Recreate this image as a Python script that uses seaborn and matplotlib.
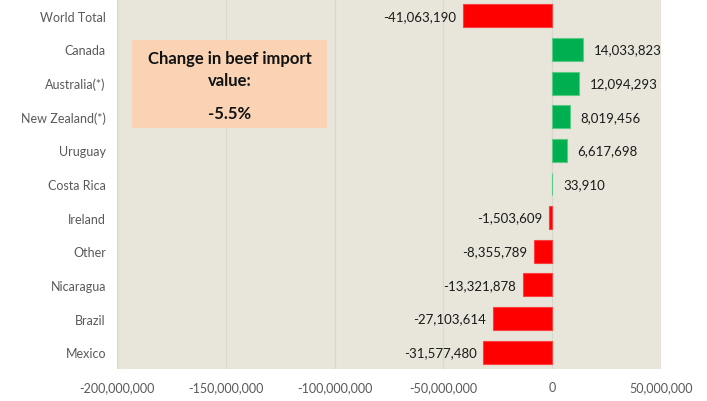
import matplotlib.pyplot as plt
import matplotlib.ticker as mticker
import seaborn as sns
import pandas as pd

# Data
countries = ['World Total', 'Canada', 'Australia(*)', 'New Zealand(*)', 'Uruguay',
             'Costa Rica', 'Ireland', 'Other', 'Nicaragua', 'Brazil', 'Mexico']
change = [-41063190, 14033823, 12094293, 8019456, 6617698,
          33910, -1503609, -8355789, -13321878, -27103614, -31577480]
x_ticks = [-200000000, -150000000, -100000000, -50000000, 0, 50000000]
summary_title = 'Change in beef import\nvalue:'
summary_value = '-5.5%'

df = pd.DataFrame({'country': countries, 'change': change})

sns.set_style('white')
plt.rcParams['font.family'] = ['Lato', 'DejaVu Sans']

fig = plt.figure(figsize=(7.07, 4.02), dpi=100)
ax = fig.add_axes([117 / 707, 32 / 402, 544 / 707, 370 / 402])
ax.set_facecolor('#E8E5DA')

green, red = '#00B050', '#FF0000'
colors = [green if v >= 0 else red for v in change]
sns.barplot(data=df, x='change', y='country', hue='country', palette=colors,
            saturation=1, orient='h', width=0.68, legend=False, ax=ax, zorder=3)

# thin outlines like the spreadsheet bars
for patch, v in zip(ax.patches, change):
    patch.set_edgecolor('#5ACB85' if v >= 0 else '#FF4040')
    patch.set_linewidth(0.8)

# value labels
for i, v in enumerate(change):
    if v >= 0:
        ax.annotate(f'{v:,}', (v, i), xytext=(8, 0), textcoords='offset points',
                    ha='left', va='center', fontsize=9.5, color='#1A1A1A')
    else:
        ax.annotate(f'{v:,}', (v, i), xytext=(-5, 0), textcoords='offset points',
                    ha='right', va='center', fontsize=9.5, color='#1A1A1A')

ax.set_xlim(-200000000, 50000000)
ax.set_ylim(len(countries) - 0.5, -0.5)
ax.set_xticks(x_ticks)
ax.xaxis.set_major_formatter(mticker.FuncFormatter(lambda v, p: f'{int(v):,}'))
ax.grid(axis='x', color='#DAD7CE', linewidth=0.9, zorder=0)
ax.set_axisbelow(True)
ax.tick_params(axis='both', length=0, colors='#595959', labelsize=9)
ax.tick_params(axis='x', pad=9)
ax.tick_params(axis='y', pad=8)
for s in ax.spines.values():
    s.set_visible(False)
ax.set_xlabel('')
ax.set_ylabel('')

# summary box
box = plt.Rectangle((132 / 707, 1 - 129 / 402), 195 / 707, 88 / 402,
                    transform=fig.transFigure, facecolor='#F9D3B4', edgecolor='none', zorder=5)
fig.patches.append(box)
fig.text(229.5 / 707, 1 - 70 / 402, summary_title, ha='center', va='center',
         fontsize=12, fontweight='bold', color='#111111', linespacing=1.45, zorder=6)
fig.text(229.5 / 707, 1 - 114 / 402, summary_value, ha='center', va='center',
         fontsize=12, fontweight='bold', color='#111111', zorder=6)

fig.savefig('out.png', dpi=100, facecolor='white')
